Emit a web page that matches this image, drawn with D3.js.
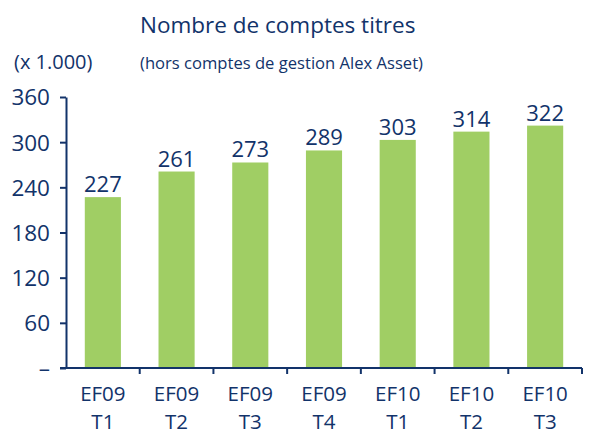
<!DOCTYPE html>
<html><head><meta charset="utf-8">
<script src="https://cdn.jsdelivr.net/npm/d3@7"></script>
<style>body{margin:0;background:#fff}svg{display:block}text{font-family:"Open Sans",sans-serif;fill:#12336a}</style>
</head><body><svg id="c" width="597" height="435"></svg>
<script>
const categoriesTop = ["EF09","EF09","EF09","EF09","EF10","EF10","EF10"];
const categoriesBottom = ["T1","T2","T3","T4","T1","T2","T3"];
const values = [227,261,273,289,303,314,322];
const yTicks = [0,60,120,180,240,300,360];
const yTickLabels = ["–","60","120","180","240","300","360"];

const svg = d3.select("#c");
const navy = "#12336a";
const x0 = 66, x1 = 582, yBase = 368, yTop = 97;
const idx = values.map((d,i)=>i);
const x = d3.scaleBand().domain(idx).range([x0,x1]).paddingInner(0.51).paddingOuter(0.255);
const xb = d3.scaleBand().domain(idx).range([x0,x1]);
const y = d3.scaleLinear().domain([0,360]).range([yBase,yTop]);

svg.append("text").attr("x",140).attr("y",33).attr("font-size",22.5).text("Nombre de comptes titres");
svg.append("text").attr("x",14).attr("y",69).attr("font-size",20).text("(x 1.000)");
svg.append("text").attr("x",140).attr("y",69).attr("font-size",16.6).text("(hors comptes de gestion Alex Asset)");

svg.selectAll("rect.bar").data(values).join("rect").attr("class","bar")
  .attr("x",(d,i)=>x(i)).attr("width",x.bandwidth())
  .attr("y",d=>y(d)).attr("height",d=>yBase-y(d)).attr("fill","#a0ce64");

svg.selectAll("text.val").data(values).join("text").attr("class","val")
  .attr("x",(d,i)=>x(i)+x.bandwidth()/2).attr("y",d=>y(d)-5)
  .attr("text-anchor","middle").attr("font-size",22).text(d=>d);

// y axis
const ya = svg.append("g").attr("transform",`translate(${x0},0)`)
  .call(d3.axisLeft(y).tickValues(yTicks).tickFormat((d,i)=>yTickLabels[i]).tickSize(6).tickPadding(10).tickSizeOuter(0));
ya.select(".domain").attr("stroke",navy).attr("stroke-width",2);
ya.selectAll(".tick line").attr("stroke",navy).attr("stroke-width",2);
ya.selectAll(".tick text").attr("font-size",22.5).attr("fill",navy).attr("dy","0.35em").style("font-family","'Open Sans',sans-serif");

// x axis
const xa = svg.append("g").attr("transform",`translate(0,${yBase})`);
xa.append("line").attr("x1",x0-6).attr("x2",x1).attr("y1",0).attr("y2",0).attr("stroke",navy).attr("stroke-width",2);
xa.selectAll("line.t").data(idx).join("line").attr("class","t")
  .attr("x1",i=>xb(i)+xb.bandwidth()).attr("x2",i=>xb(i)+xb.bandwidth())
  .attr("y1",0).attr("y2",6).attr("stroke",navy).attr("stroke-width",2);
xa.selectAll("text.l1").data(categoriesTop).join("text").attr("class","l1")
  .attr("x",(d,i)=>xb(i)+xb.bandwidth()/2).attr("y",32.5).attr("text-anchor","middle").attr("font-size",20.5).text(d=>d);
xa.selectAll("text.l2").data(categoriesBottom).join("text").attr("class","l2")
  .attr("x",(d,i)=>xb(i)+xb.bandwidth()/2).attr("y",60.5).attr("text-anchor","middle").attr("font-size",20.5).text(d=>d);
</script></body></html>
